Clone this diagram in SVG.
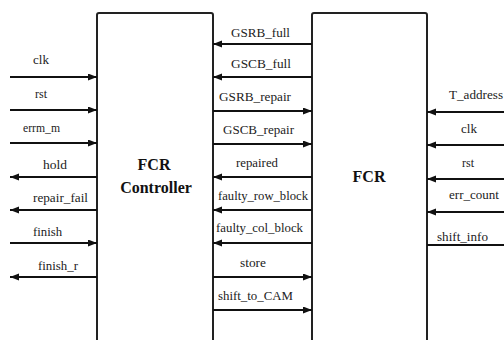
<svg xmlns="http://www.w3.org/2000/svg" width="504" height="340" viewBox="0 0 504 340">
<style>
.box{fill:none;stroke:#222;stroke-width:2}
.w{stroke:#111;stroke-width:2;fill:none}
.a{marker-end:url(#ah)}
text{font-family:"Liberation Serif",serif}
.t{font-size:12.5px;fill:#222}
.b{font-size:16px;font-weight:bold;fill:#111;text-anchor:middle}
</style>
<defs>
<marker id="ah" markerUnits="userSpaceOnUse" markerWidth="10" markerHeight="8" refX="9" refY="3.5" orient="auto">
<path d="M0,0 L9,3.5 L0,7 z" fill="#111"/>
</marker>
</defs>
<rect width="504" height="340" fill="#fff"/>
<g id="fcr-controller">
<path class="box" d="M97,345 V15 Q97,13 99,13 H211 Q213,13 213,15 V345"/>
<text class="b" x="154" y="170" font-family="Liberation Serif">FCR</text>
<text class="b" x="156" y="193" font-family="Liberation Serif">Controller</text>
</g>
<g id="fcr">
<path class="box" d="M312,345 V15 Q312,13 314,13 H425 Q427,13 427,15 V345"/>
<text class="b" x="369" y="182" font-family="Liberation Serif">FCR</text>
</g>
<g id="connectors">
<line class="w a" x1="10" y1="77" x2="97" y2="77"/>
<line class="w a" x1="10" y1="110" x2="97" y2="110"/>
<line class="w a" x1="10" y1="143" x2="97" y2="143"/>
<line class="w a" x1="97" y1="177" x2="10" y2="177"/>
<line class="w a" x1="97" y1="210" x2="10" y2="210"/>
<line class="w a" x1="10" y1="243" x2="97" y2="243"/>
<line class="w a" x1="97" y1="277" x2="10" y2="277"/>
<line class="w a" x1="312" y1="44" x2="213" y2="44"/>
<line class="w a" x1="312" y1="77" x2="213" y2="77"/>
<line class="w a" x1="213" y1="111" x2="312" y2="111"/>
<line class="w a" x1="213" y1="144" x2="312" y2="144"/>
<line class="w a" x1="312" y1="177" x2="213" y2="177"/>
<line class="w a" x1="312" y1="210" x2="213" y2="210"/>
<line class="w a" x1="312" y1="243" x2="213" y2="243"/>
<line class="w a" x1="213" y1="277" x2="312" y2="277"/>
<line class="w a" x1="213" y1="310" x2="312" y2="310"/>
<line class="w a" x1="504" y1="112" x2="427" y2="112"/>
<line class="w a" x1="504" y1="145" x2="427" y2="145"/>
<line class="w a" x1="504" y1="179" x2="427" y2="179"/>
<line class="w a" x1="504" y1="212" x2="427" y2="212"/>
<line class="w" x1="504" y1="245" x2="427" y2="245"/>
</g>
<g id="labels" font-family="Liberation Serif">
<text class="t" x="33" y="64" textLength="16" lengthAdjust="spacingAndGlyphs">clk</text>
<text class="t" x="35" y="98" textLength="12" lengthAdjust="spacingAndGlyphs">rst</text>
<text class="t" x="23" y="132" textLength="37" lengthAdjust="spacingAndGlyphs">errm_m</text>
<text class="t" x="43" y="169" textLength="24" lengthAdjust="spacingAndGlyphs">hold</text>
<text class="t" x="33" y="202" textLength="55" lengthAdjust="spacingAndGlyphs">repair_fail</text>
<text class="t" x="33" y="236" textLength="29" lengthAdjust="spacingAndGlyphs">finish</text>
<text class="t" x="38" y="270" textLength="40" lengthAdjust="spacingAndGlyphs">finish_r</text>
<text class="t" x="231" y="37" textLength="59" lengthAdjust="spacingAndGlyphs">GSRB_full</text>
<text class="t" x="231" y="68" textLength="60" lengthAdjust="spacingAndGlyphs">GSCB_full</text>
<text class="t" x="219" y="101" textLength="72" lengthAdjust="spacingAndGlyphs">GSRB_repair</text>
<text class="t" x="223" y="134" textLength="71" lengthAdjust="spacingAndGlyphs">GSCB_repair</text>
<text class="t" x="236" y="167" textLength="42" lengthAdjust="spacingAndGlyphs">repaired</text>
<text class="t" x="218" y="200" textLength="90" lengthAdjust="spacingAndGlyphs">faulty_row_block</text>
<text class="t" x="216" y="232" textLength="87" lengthAdjust="spacingAndGlyphs">faulty_col_block</text>
<text class="t" x="240" y="267" textLength="26" lengthAdjust="spacingAndGlyphs">store</text>
<text class="t" x="218" y="300" textLength="75" lengthAdjust="spacingAndGlyphs">shift_to_CAM</text>
<text class="t" x="449" y="99" textLength="54" lengthAdjust="spacingAndGlyphs">T_address</text>
<text class="t" x="461" y="133" textLength="16" lengthAdjust="spacingAndGlyphs">clk</text>
<text class="t" x="462" y="167" textLength="12" lengthAdjust="spacingAndGlyphs">rst</text>
<text class="t" x="449" y="199" textLength="50" lengthAdjust="spacingAndGlyphs">err_count</text>
<text class="t" x="437" y="241" textLength="51" lengthAdjust="spacingAndGlyphs">shift_info</text>
</g>
</svg>
